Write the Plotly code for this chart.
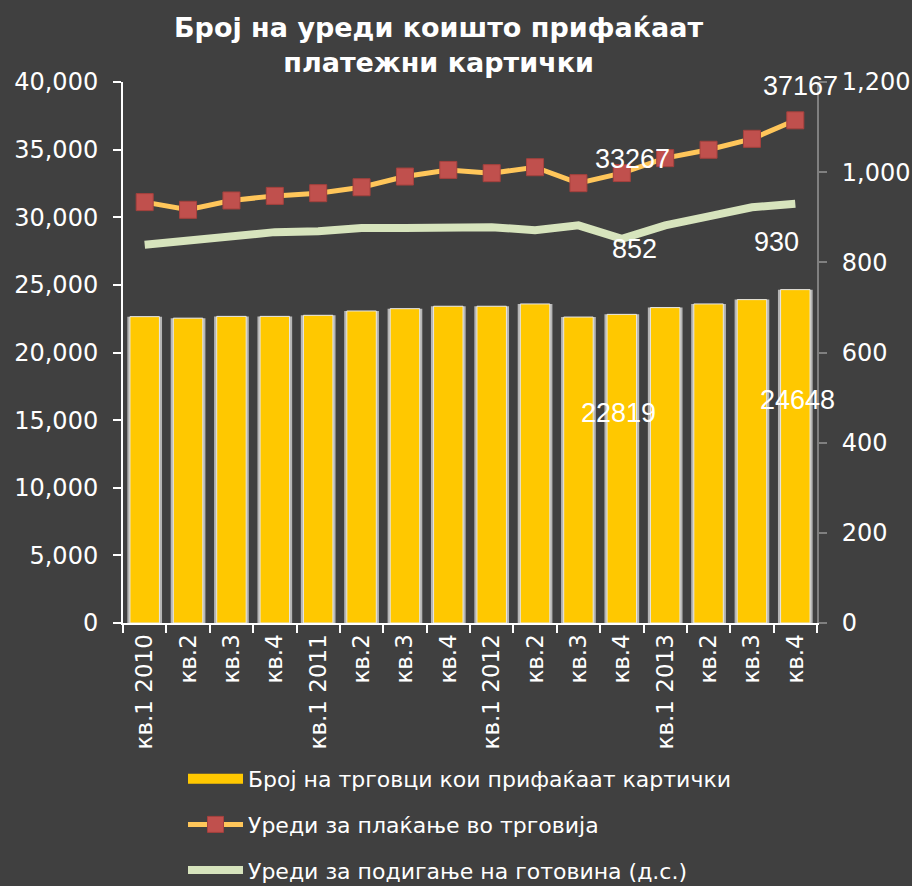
import plotly.graph_objects as go

categories = ["кв.1 2010", "кв.2 ", "кв.3 ", "кв.4 ",
              "кв.1 2011", "кв.2  ", "кв.3  ", "кв.4  ",
              "кв.1 2012", "кв.2   ", "кв.3   ", "кв.4   ",
              "кв.1 2013", "кв.2    ", "кв.3    ", "кв.4    "]
tick_labels = ["кв.1 2010", "кв.2", "кв.3", "кв.4",
               "кв.1 2011", "кв.2", "кв.3", "кв.4",
               "кв.1 2012", "кв.2", "кв.3", "кв.4",
               "кв.1 2013", "кв.2", "кв.3", "кв.4"]

merchants = [22650, 22540, 22670, 22670, 22750, 23070, 23240, 23420,
             23420, 23590, 22620, 22819, 23320, 23590, 23910, 24648]
pos_devices = [31120, 30550, 31240, 31580, 31780, 32220, 33010, 33500,
               33260, 33700, 32520, 33267, 34370, 34990, 35800, 37167]
atm_devices = [839, 848, 860, 867, 869, 876, 876, 876,
               878, 871, 882, 852, 882, 902, 922, 930]

name_bar = "Број на трговци кои прифаќаат картички"
name_pos = "Уреди за плаќање во трговија"
name_atm = "Уреди за подигање на готовина (д.с.)"
title_text = "Број на уреди коишто прифаќаат<br>платежни картички"

BG = "#404040"
FONT = "DejaVu Sans"
LABEL_FONT = "Liberation Sans Narrow, Liberation Sans, sans-serif"

fig = go.Figure()

# silver frame behind each bar
fig.add_trace(go.Bar(
    x=categories, y=merchants, name=name_bar, showlegend=False,
    marker=dict(color="#B5B5B5", line=dict(width=0)),
    width=0.8, legendgroup="a", hoverinfo="skip",
))
fig.add_trace(go.Bar(
    x=categories, y=merchants, name=name_bar, showlegend=False,
    marker=dict(color="#FFC800", line=dict(color="#E6E6E6", width=1)),
    width=0.68, legendgroup="a",
))
# legend swatch for the bars (wide gold rectangle)
fig.add_trace(go.Scatter(
    x=[None], y=[None], name=name_bar, mode="lines",
    line=dict(color="#FFC800", width=14), legendgroup="a",
))
fig.add_trace(go.Scatter(
    x=categories, y=pos_devices, name=name_pos, mode="lines+markers",
    line=dict(color="#FFC65A", width=5),
    marker=dict(symbol="square", size=17, color="#C0504D",
                line=dict(color="#A5403D", width=1)),
    legendgroup="b",
))
fig.add_trace(go.Scatter(
    x=categories, y=atm_devices, name=name_atm, mode="lines",
    line=dict(color="#D7E4BD", width=8), yaxis="y2",
    legendgroup="c",
))

label_font = dict(family=LABEL_FONT, size=27, color="white")
ann = []
i11, i15 = 11, 15
ann.append(dict(x=categories[i15], y=pos_devices[i15], xref="x", yref="y",
                text=str(pos_devices[i15]), showarrow=False, font=label_font,
                xshift=5, yshift=34))
ann.append(dict(x=categories[i11], y=pos_devices[i11], xref="x", yref="y",
                text=str(pos_devices[i11]), showarrow=False, font=label_font,
                xshift=11, yshift=14))
ann.append(dict(x=categories[i11], y=atm_devices[i11], xref="x", yref="y2",
                text=str(atm_devices[i11]), showarrow=False, font=label_font,
                xshift=13, yshift=-10))
ann.append(dict(x=categories[i15], y=atm_devices[i15], xref="x", yref="y2",
                text=str(atm_devices[i15]), showarrow=False, font=label_font,
                xshift=-19, yshift=-38))
ann.append(dict(x=categories[i11], y=merchants[i11], xref="x", yref="y",
                text=str(merchants[i11]), showarrow=False, font=label_font,
                xshift=-3, yshift=-99))
ann.append(dict(x=categories[i15], y=merchants[i15], xref="x", yref="y",
                text=str(merchants[i15]), showarrow=False, font=label_font,
                xshift=2, yshift=-110))
# chart title
ann.append(dict(x=(438 - 123) / 694, y=(623 - 45) / 541, xref="paper", yref="paper",
                text=title_text, showarrow=False, xanchor="center", yanchor="middle",
                font=dict(family=FONT, size=27, color="white", weight="bold")))

fig.update_layout(
    width=912, height=886,
    paper_bgcolor=BG, plot_bgcolor=BG,
    margin=dict(l=123, r=95, t=82, b=263, autoexpand=False),
    font=dict(family=FONT, color="white"),
    barmode="overlay",
    showlegend=True,
    legend=dict(orientation="v", x=(183 - 123) / 694, xanchor="left",
                y=(623 - 758) / 541, yanchor="top",
                font=dict(family=FONT, size=22, color="white"),
                bgcolor="rgba(0,0,0,0)", tracegroupgap=14,
                traceorder="grouped", itemwidth=55),
    xaxis=dict(type="category", tickmode="array", tickvals=categories,
               ticktext=tick_labels, tickangle=-90, tickson="boundaries",
               range=[-0.5, len(categories) - 0.5],
               ticks="outside", ticklen=8, tickwidth=2, tickcolor="white",
               showline=True, linecolor="white", linewidth=2,
               showgrid=False, zeroline=False,
               tickfont=dict(family=FONT, size=23, color="white")),
    yaxis=dict(range=[0, 40000], dtick=5000, tickformat=",",
               ticks="outside", ticklen=8, tickwidth=2, tickcolor="white",
               showline=True, linecolor="white", linewidth=2,
               showgrid=False, zeroline=False, ticklabelstandoff=10,
               tickfont=dict(family=FONT, size=24, color="white")),
    yaxis2=dict(range=[0, 1200], dtick=200, tickformat=",", overlaying="y",
                side="right", ticks="outside", ticklen=8, tickwidth=2,
                tickcolor="#808080", showline=True, linecolor="#808080",
                linewidth=2, showgrid=False, zeroline=False, ticklabelstandoff=10,
                tickfont=dict(family=FONT, size=24, color="white")),
    annotations=ann,
)

fig.write_html("out.html", config={"displayModeBar": False},
               post_script="document.body.style.margin='0';")
